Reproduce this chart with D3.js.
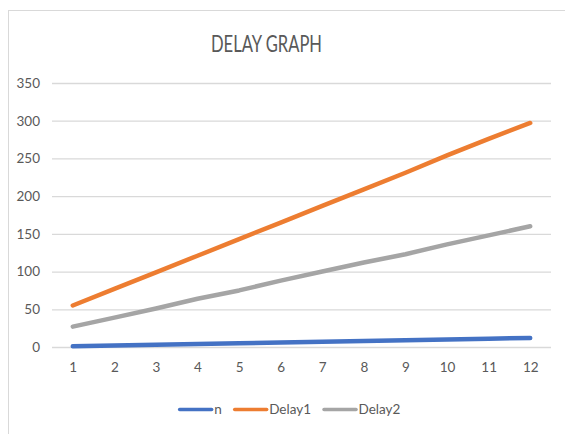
<!DOCTYPE html>
<html>
<head>
<meta charset="utf-8">
<script src="https://cdn.jsdelivr.net/npm/d3@7"></script>
<style>
  html, body { margin: 0; padding: 0; background: #fff; }
  svg { display: block; font-family: Lato, "Open Sans", sans-serif; }
</style>
</head>
<body>
<svg id="chart" width="565" height="434"></svg>
<script>
// Categories and series
const categories = [1, 2, 3, 4, 5, 6, 7, 8, 9, 10, 11, 12];
const nValues      = [1, 2, 3, 4, 5, 6, 7, 8, 9, 10, 11, 12];
const delay1Values = [55, 77, 99, 121, 143, 165, 187, 209, 231, 254, 276, 297];
const delay2Values = [27, 39, 51, 64, 75, 88, 100, 112, 123, 136, 148, 160];
const yTicks = [0, 50, 100, 150, 200, 250, 300, 350];
const seriesNames = ["n", "Delay1", "Delay2"];
const seriesColors = ["#4472C4", "#ED7D31", "#A5A5A5"];
const titleText = "DELAY GRAPH";

const series = [nValues, delay1Values, delay2Values].map((vals, i) => ({
  name: seriesNames[i],
  color: seriesColors[i],
  points: categories.map((c, j) => ({ c, v: vals[j] }))
}));

const svg = d3.select("#chart");
const textColor = "#595959";
const gridColor = "#D9D9D9";

// Chart frame
svg.append("rect")
  .attr("x", 8.5).attr("y", 10.5)
  .attr("width", 600).attr("height", 460)
  .attr("fill", "#fff")
  .attr("stroke", gridColor).attr("stroke-width", 1);

// Plot area
const plot = { left: 52, right: 551, top: 83, bottom: 347 };

const x = d3.scalePoint()
  .domain(categories)
  .range([plot.left, plot.right])
  .padding(0.5);

const y = d3.scaleLinear()
  .domain([0, 350])
  .range([plot.bottom, plot.top]);

// Horizontal gridlines
const grid = svg.append("g")
  .attr("transform", `translate(${plot.left},0)`)
  .call(d3.axisLeft(y).tickValues(yTicks).tickSize(-(plot.right - plot.left)).tickFormat(""));
grid.select(".domain").remove();
grid.selectAll(".tick line").attr("stroke", gridColor).attr("stroke-width", 1.3);

// Y axis labels
const yAxis = svg.append("g")
  .attr("transform", `translate(40,0)`)
  .call(d3.axisLeft(y).tickValues(yTicks).tickSize(0).tickPadding(0));
yAxis.select(".domain").remove();
yAxis.selectAll("text")
  .attr("fill", textColor)
  .style("font-size", "13.5px")
  .style("font-family", "Lato, sans-serif");

// X axis labels
const xAxis = svg.append("g")
  .attr("transform", `translate(0,362)`)
  .call(d3.axisBottom(x).tickSize(0).tickPadding(0));
xAxis.select(".domain").remove();
xAxis.selectAll("text")
  .attr("fill", textColor)
  .style("font-size", "13.5px")
  .style("font-family", "Lato, sans-serif");

// Lines
const line = d3.line()
  .x(d => x(d.c))
  .y(d => y(d.v));

svg.append("g").selectAll("path")
  .data(series)
  .join("path")
  .attr("d", d => line(d.points))
  .attr("fill", "none")
  .attr("stroke", d => d.color)
  .attr("stroke-width", 4.5)
  .attr("stroke-linecap", "round")
  .attr("stroke-linejoin", "round");

// Title
svg.append("text")
  .attr("x", 266.5).attr("y", 52)
  .attr("text-anchor", "middle")
  .attr("fill", textColor)
  .attr("textLength", 111)
  .attr("lengthAdjust", "spacingAndGlyphs")
  .style("font-size", "23px")
  .style("font-family", "Lato, sans-serif")
  .text(titleText);

// Legend
const legend = svg.append("g");
const legendY = 409.5;
const swatch = 32;
let cursor = 0;
const items = legend.selectAll("g")
  .data(series)
  .join("g");
items.each(function(d) {
  const g = d3.select(this);
  g.append("line")
    .attr("x1", 0).attr("x2", swatch)
    .attr("y1", legendY).attr("y2", legendY)
    .attr("stroke", d.color)
    .attr("stroke-width", 3.5)
    .attr("stroke-linecap", "round");
  const t = g.append("text")
    .attr("x", swatch + 2.5).attr("y", legendY)
    .attr("dy", "0.35em")
    .attr("fill", textColor)
    .style("font-size", "13.5px")
    .style("font-family", "Lato, sans-serif")
    .text(d.name);
  const w = t.node().getComputedTextLength();
  g.attr("transform", `translate(${cursor},0)`);
  cursor += swatch + 2.5 + w + 13;
});
const legendWidth = cursor - 13;
legend.attr("transform", `translate(${290 - legendWidth / 2},0)`);
</script>
</body>
</html>
